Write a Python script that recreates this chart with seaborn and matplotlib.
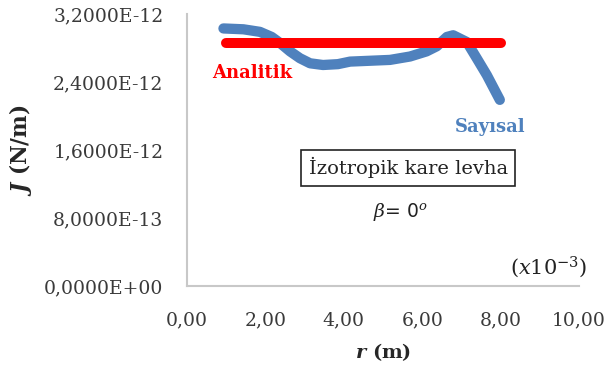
import numpy as np
import pandas as pd
import matplotlib
matplotlib.use("Agg")
import matplotlib.pyplot as plt
from matplotlib.ticker import FuncFormatter, FixedLocator
import seaborn as sns

# Numerical (Sayısal) J-integral along the path, in units of 1e-12 N/m
r_sayisal = [0.93, 1.44, 1.86, 2.16, 2.37, 2.63, 2.88, 3.14, 3.47, 3.85, 4.16,
             4.67, 5.18, 5.69, 6.11, 6.37, 6.63, 6.79, 7.14, 7.39, 7.65, 7.98]
j_sayisal = [3.03, 3.02, 2.99, 2.93, 2.86, 2.76, 2.68, 2.62, 2.60, 2.61, 2.64,
             2.65, 2.66, 2.70, 2.76, 2.82, 2.93, 2.95, 2.87, 2.68, 2.48, 2.19]

# Analytical (Analitik) value, in units of 1e-12 N/m
r_analitik = [1.0, 8.0]
j_analitik = [2.86, 2.86]

y_ticks = [0.0, 0.8, 1.6, 2.4, 3.2]
x_ticks = [0, 2, 4, 6, 8, 10]

SCALE = 1e-12

sns.set_theme(style="white")
plt.rcParams["font.family"] = ["DejaVu Serif"]
plt.rcParams["mathtext.fontset"] = "dejavuserif"

fig = plt.figure(figsize=(6.08, 3.69), dpi=100)
ax = fig.add_axes([187 / 608, 1 - 286 / 369, (579 - 187) / 608, (286 - 14) / 369])

df_a = pd.DataFrame({"r": r_analitik, "J": np.array(j_analitik) * SCALE})
df_s = pd.DataFrame({"r": r_sayisal, "J": np.array(j_sayisal) * SCALE})

red = "#FF0000"
blue = "#4F81BD"
sns.lineplot(data=df_s, x="r", y="J", ax=ax, color=blue, linewidth=7.4,
             sort=False, estimator=None, solid_capstyle="round",
             solid_joinstyle="round", zorder=2)
sns.lineplot(data=df_a, x="r", y="J", ax=ax, color=red, linewidth=7.2,
             sort=False, estimator=None, solid_capstyle="round", zorder=3)

ax.set_xlim(0, 10)
ax.set_ylim(0, 3.2 * SCALE)
ax.xaxis.set_major_locator(FixedLocator(x_ticks))
ax.yaxis.set_major_locator(FixedLocator([v * SCALE for v in y_ticks]))
ax.xaxis.set_major_formatter(FuncFormatter(lambda v, p: f"{v:.2f}".replace(".", ",")))
ax.yaxis.set_major_formatter(FuncFormatter(lambda v, p: f"{v:.4E}".replace(".", ",")))

for side in ["top", "right"]:
    ax.spines[side].set_visible(False)
for side in ["left", "bottom"]:
    ax.spines[side].set_color("#C8C8C8")
    ax.spines[side].set_linewidth(1.5)
ax.tick_params(axis="both", direction="in", length=6, width=1.2, color="#C8C8C8",
               labelsize=13.5, labelcolor="#3a3a3a")
ax.tick_params(axis="y", pad=17)
ax.tick_params(axis="x", pad=18)

ax.set_xlabel(r"$\boldsymbol{r}$ (m)", fontsize=14, fontweight="bold", labelpad=9)
ax.set_ylabel(r"$\boldsymbol{J}$ (N/m)", fontsize=15.5, fontweight="bold")
ax.yaxis.set_label_coords(-0.39, 0.5)

ax.text(1.67, 2.51 * SCALE, "Analitik", color=red, fontsize=13, fontweight="bold",
        ha="center", va="center")
ax.text(7.74, 1.87 * SCALE, "Sayısal", color=blue, fontsize=13, fontweight="bold",
        ha="center", va="center")
ax.text(5.64, 1.39 * SCALE, "İzotropik kare levha", fontsize=14, color="#222222",
        ha="center", va="center",
        bbox=dict(boxstyle="square,pad=0.4", facecolor="white", edgecolor="#222222",
                  linewidth=1.2))
ax.text(5.44, 0.87 * SCALE, r"$\mathit{\beta}$= 0$^{\mathit{o}}$", fontsize=13.5,
        color="#222222", ha="center", va="center", family="DejaVu Sans")
ax.text(9.23, 0.22 * SCALE, r"$(x10^{-3})$", fontsize=15, color="#222222",
        ha="center", va="center")

fig.savefig("out.png", dpi=100, facecolor="white")
